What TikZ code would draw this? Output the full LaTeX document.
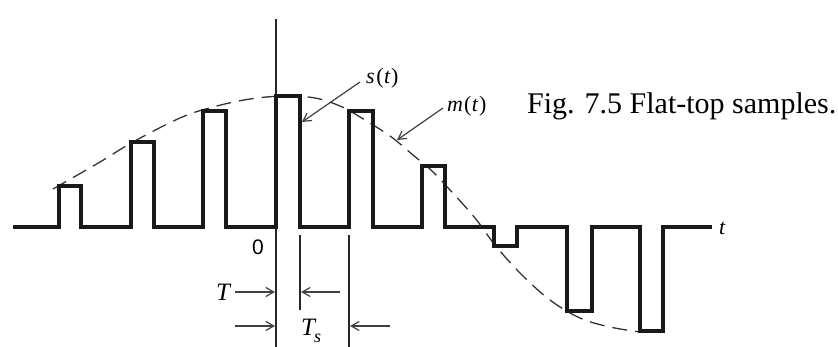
\documentclass[tikz,border=0pt]{standalone}
\usepackage{fontspec}
\setmainfont{Liberation Serif}
\newfontfamily\zerofont{Liberation Sans}
\usetikzlibrary{arrows.meta}
\begin{document}
\begin{tikzpicture}[x=1pt,y=-1pt,
  pulse/.style={line width=3.4pt, line join=miter, black!90},
  env/.style={line width=1.3pt, dash pattern=on 15pt off 8pt, black!80},
  ptr/.style={line width=1.2pt, black!75, -{Straight Barb[length=8pt,width=9pt]}},
  guide/.style={line width=1.3pt, black!85},
  lbl/.style={inner sep=0pt, font=\fontsize{22}{22}\selectfont}]
\useasboundingbox (0,0) rectangle (838,347);
% guide lines
\coordinate (axtop) at (276,19);
\coordinate (axbot) at (276,347);
\draw[guide] (axtop) -- (axbot);
\coordinate (ta) at (300,235); \coordinate (tb) at (300,310);
\draw[guide] (ta) -- (tb);
\coordinate (sa) at (349,235); \coordinate (sb) at (349,347);
\draw[guide] (sa) -- (sb);
% envelope
\draw[env] plot[smooth, tension=0.6] coordinates {(53,189) (100,162) (133,142) (180,118) (213,107) (250,99) (285,96) (315,98) (340,106) (360,117) (390,136) (413,155) (432,171) (450,190) (475,218) (495,245) (520,273) (550,300) (580,318) (610,327) (640,332)};
% pulse train
\draw[pulse] (13,227) -- (59,227) |- (81,186) -- (81,227)
  -- (131,227) |- (154,142) -- (154,227)
  -- (203,227) |- (226,111) -- (226,227)
  -- (276,227) |- (300,96) -- (300,227)
  -- (349,227) |- (373,111) -- (373,227)
  -- (422,227) |- (445,166) -- (445,227)
  -- (494,227) |- (517,246) -- (517,227)
  -- (567,227) |- (592,311) -- (592,227)
  -- (640,227) |- (663,331) -- (663,227)
  -- (712,227);
% labels
\node[lbl, anchor=base west] (st) at (366,84) {\itshape s\kern1.5pt\upshape(\kern0.5pt\itshape t\kern1pt\upshape)};
\node[lbl, anchor=base west] (mt) at (447,112) {\itshape m\kern1pt\upshape(\kern0.5pt\itshape t\kern1pt\upshape)};
\node[lbl, anchor=west] (tlab) at (719,228) {\itshape t};
\node[inner sep=0pt, font=\zerofont\fontsize{21}{21}\selectfont] (zero) at (258,247) {0};
\node[inner sep=0pt, anchor=base west, font=\fontsize{30}{30}\selectfont] (cap) at (527,114) {Fig. 7.5 Flat-top samples.};
\node[lbl, font=\fontsize{25}{25}\selectfont\itshape] (Tl) at (223,292) {T};
\node[lbl, font=\fontsize{25}{25}\selectfont\itshape, anchor=base west] (Tsl) at (301,336) {T\kern-1pt\raisebox{-6pt}{\fontsize{18}{18}\selectfont s}};
% pointers
\coordinate (stend) at (302,122);
\coordinate (mtend) at (397,140);
\draw[ptr] (360,82) -- (stend);
\draw[ptr] (443,108) -- (mtend);
\coordinate (a1) at (235,292); \coordinate (a1e) at (275,292);
\coordinate (a2) at (340,292); \coordinate (a2e) at (301,292);
\coordinate (b1) at (235,326); \coordinate (b1e) at (275,326);
\coordinate (b2) at (390,326); \coordinate (b2e) at (350,326);
\draw[ptr] (a1) -- (a1e);
\draw[ptr] (a2) -- (a2e);
\draw[ptr] (b1) -- (b1e);
\draw[ptr] (b2) -- (b2e);
\end{tikzpicture}
\end{document}
